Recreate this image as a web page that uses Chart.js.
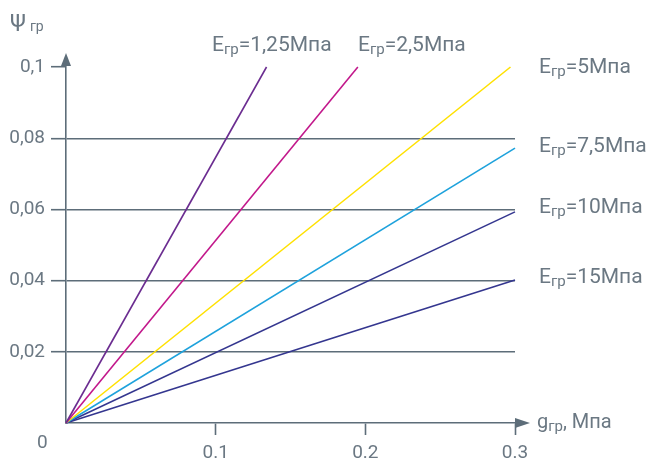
<!DOCTYPE html>
<html>
<head>
<meta charset="utf-8">
<script src="https://cdn.jsdelivr.net/npm/chart.js@4/dist/chart.umd.min.js"></script>
<style>
  html, body { margin: 0; padding: 0; background: #ffffff; }
  #wrap { width: 648px; height: 460px; position: relative; }
</style>
</head>
<body>
<div id="wrap"><canvas id="c" width="648" height="460"></canvas></div>
<script>
// Soil modulus for each line (label text), and the end point of each line
const modulusLabels = ['1,25', '2,5', '5', '7,5', '10', '15'];
const endLoad = [0.134, 0.195, 0.297, 0.3, 0.3, 0.3];      // g_гр, МПа
const endPsi = [0.1, 0.1, 0.1, 0.0772, 0.0593, 0.0402];    // Ψ_гр
const lineColors = ['#6b2d90', '#c2188b', '#ffe100', '#1ea2dc', '#34368f', '#34368f'];

const yTicks = [0.02, 0.04, 0.06, 0.08, 0.1];
const xTicks = [0.1, 0.2, 0.3];

const axisColor = '#5d6d79';
const textColor = '#6b7883';
const FONT = 'Roboto, "Liberation Sans", sans-serif';

const datasets = modulusLabels.map((m, i) => ({
  label: 'E гр=' + m + 'Мпа',
  data: [{ x: 0, y: 0 }, { x: endLoad[i], y: endPsi[i] }],
  borderColor: lineColors[i],
  borderWidth: 1.6,
  showLine: true,
  pointRadius: 0,
  clip: false
}));

// Label anchors in pixels (left edge, baseline)
const labelAnchors = [[212, 51], [358, 51], [539, 73], [539, 152], [539, 213], [539, 283]];

function drawParts(ctx, x, y, parts) {
  let cx = x;
  parts.forEach(p => {
    ctx.font = p.size + 'px ' + FONT;
    ctx.fillText(p.text, cx, y + (p.dy || 0));
    cx += ctx.measureText(p.text).width + (p.gap || 0);
  });
}

const decorations = {
  id: 'decorations',
  afterDraw(chart) {
    const ctx = chart.ctx;
    const xs = chart.scales.x, ys = chart.scales.y;
    const x0 = xs.getPixelForValue(0), y0 = ys.getPixelForValue(0);
    const yTop = ys.getPixelForValue(0.1), xEnd = xs.getPixelForValue(0.3);
    ctx.save();
    // axis arrows
    ctx.fillStyle = axisColor;
    ctx.beginPath();
    ctx.moveTo(x0, yTop - 14);
    ctx.lineTo(x0 - 5, yTop - 1);
    ctx.lineTo(x0 + 5, yTop - 1);
    ctx.closePath();
    ctx.fill();
    ctx.beginPath();
    ctx.moveTo(xEnd + 15, y0);
    ctx.lineTo(xEnd, y0 - 5);
    ctx.lineTo(xEnd, y0 + 5);
    ctx.closePath();
    ctx.fill();

    ctx.fillStyle = textColor;
    ctx.textBaseline = 'alphabetic';
    ctx.textAlign = 'left';
    // origin label
    ctx.font = '19px ' + FONT;
    ctx.fillText('0', 37, 448);
    // axis titles
    drawParts(ctx, 10, 31, [
      { text: 'Ψ', size: 23, gap: 4 },
      { text: 'гр', size: 14 }
    ]);
    drawParts(ctx, 537, 428, [
      { text: 'g', size: 20 },
      { text: 'гр', size: 15, dy: 3 },
      { text: ', Мпа', size: 20 }
    ]);
    // line labels
    modulusLabels.forEach((m, i) => {
      const [lx, ly] = labelAnchors[i];
      drawParts(ctx, lx, ly, [
        { text: 'E', size: 21 },
        { text: 'гр', size: 15, dy: 3 },
        { text: '=' + m + 'Мпа', size: 21 }
      ]);
    });
    ctx.restore();
  }
};

new Chart(document.getElementById('c'), {
  type: 'scatter',
  data: { datasets },
  options: {
    responsive: false,
    animation: false,
    events: [],
    layout: { padding: { left: 0, top: 67, right: 133, bottom: 0 } },
    plugins: { legend: { display: false }, tooltip: { enabled: false } },
    scales: {
      x: {
        type: 'linear',
        min: 0, max: 0.3,
        afterBuildTicks: s => { s.ticks = [0].concat(xTicks).map(v => ({ value: v })); },
        afterFit: s => { s.height = 37; },
        border: { color: axisColor, width: 1.6 },
        grid: {
          drawOnChartArea: false,
          drawTicks: true,
          tickLength: 12,
          tickWidth: 1.6,
          tickColor: c => (c.tick && c.tick.value === 0 ? 'rgba(0,0,0,0)' : axisColor)
        },
        ticks: {
          padding: 7,
          color: textColor,
          font: { family: FONT, size: 19 },
          maxRotation: 0,
          callback: v => (v === 0 ? '' : v.toFixed(1))
        }
      },
      y: {
        type: 'linear',
        min: 0, max: 0.1,
        afterBuildTicks: s => { s.ticks = [0].concat(yTicks).map(v => ({ value: v })); },
        afterFit: s => { s.width = 66; },
        border: { color: axisColor, width: 1.6 },
        grid: {
          drawTicks: true,
          tickLength: 15,
          lineWidth: 1.4,
          tickWidth: 1.6,
          color: c => (c.tick && c.tick.value > 0 && c.tick.value < 0.1 ? axisColor : 'rgba(0,0,0,0)'),
          tickColor: c => (c.tick && c.tick.value === 0 ? 'rgba(0,0,0,0)' : axisColor)
        },
        ticks: {
          padding: 6,
          color: textColor,
          font: { family: FONT, size: 19 },
          callback: v => (v === 0 ? '' : String(+v.toFixed(2)).replace('.', ','))
        }
      }
    }
  },
  plugins: [decorations]
});
</script>
</body>
</html>
